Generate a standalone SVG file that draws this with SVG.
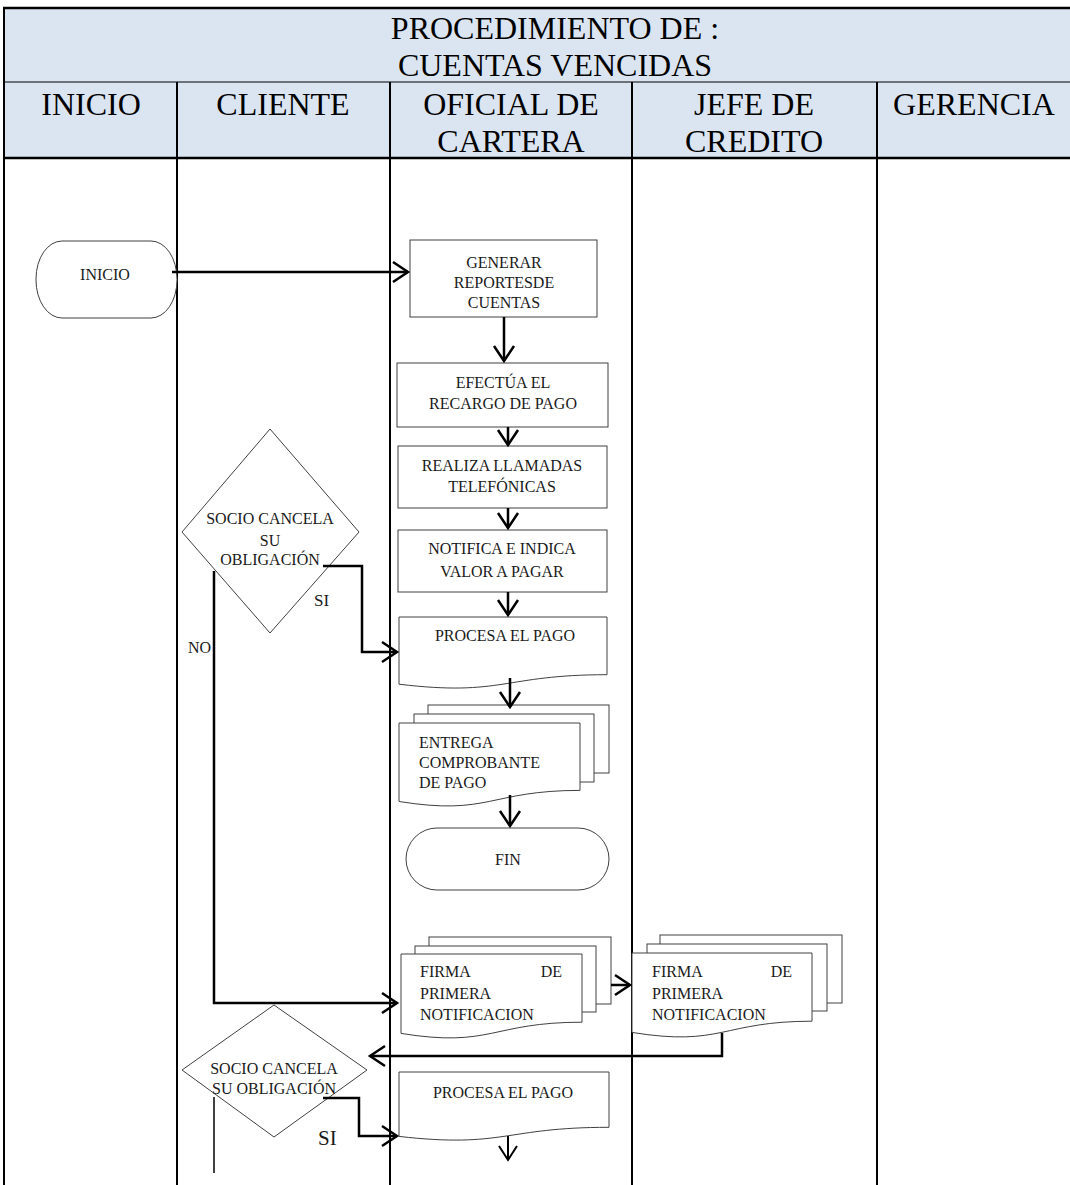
<svg xmlns="http://www.w3.org/2000/svg" width="1070" height="1185" viewBox="0 0 1070 1185">
<style>
.lane{stroke:#000;stroke-width:2;fill:none}
.node{fill:#fff;stroke:#404040;stroke-width:1}
.t{font-family:"Liberation Serif","Times New Roman",serif;font-size:16px;fill:#1a1a1a}
.c{text-anchor:middle}
.e{text-anchor:end}
.h{font-size:32px;fill:#000}
.conn{stroke:#000;stroke-width:2.5;fill:none;marker-end:url(#arr)}
.thin{stroke:#000;stroke-width:1.5;fill:none}
</style>
<defs>
<marker id="arr" markerUnits="userSpaceOnUse" viewBox="-18 -12 20 24" refX="0" refY="0" markerWidth="20" markerHeight="24" orient="auto" overflow="visible">
<path d="M-15,-10 L0,0 L-15,10" fill="none" stroke="#000" stroke-width="2.5" stroke-linejoin="miter"/>
</marker>
<marker id="arrs" markerUnits="userSpaceOnUse" viewBox="-18 -12 20 24" refX="0" refY="0" markerWidth="20" markerHeight="24" orient="auto" overflow="visible">
<path d="M-14,-9 L0,0 L-14,9" fill="none" stroke="#000" stroke-width="2"/>
</marker>
</defs>
<rect x="0" y="0" width="1070" height="1185" fill="#fff"/>
<g id="header">
<rect x="4" y="8" width="1070" height="150" fill="#dbe5f1"/>
<line x1="3" y1="8" x2="1070" y2="8" stroke="#000" stroke-width="2.5"/>
<line x1="4" y1="82" x2="1070" y2="82" stroke="#000" stroke-width="1.2"/>
<line x1="3" y1="158" x2="1070" y2="158" stroke="#000" stroke-width="2.5"/>
<text class="t h c" x="555" y="39">PROCEDIMIENTO DE :</text>
<text class="t h c" x="555" y="76">CUENTAS VENCIDAS</text>
<text class="t h c" x="91" y="115">INICIO</text>
<text class="t h c" x="283" y="115">CLIENTE</text>
<text class="t h c" x="511" y="115">OFICIAL DE</text>
<text class="t h c" x="511" y="152">CARTERA</text>
<text class="t h c" x="754" y="115">JEFE DE</text>
<text class="t h c" x="754" y="152">CREDITO</text>
<text class="t h c" x="974" y="115">GERENCIA</text>
</g>
<g id="lanes">
<line class="lane" x1="4" y1="8" x2="4" y2="1185"/>
<line class="lane" x1="177" y1="82" x2="177" y2="1185"/>
<line class="lane" x1="390" y1="82" x2="390" y2="1185"/>
<line class="lane" x1="632" y1="82" x2="632" y2="1185"/>
<line class="lane" x1="877" y1="82" x2="877" y2="1185"/>
</g>
<g id="n_inicio">
<rect class="node" x="36" y="241" width="141" height="77" rx="26" ry="38"/>
<text class="t c" x="105" y="280">INICIO</text>
</g>
<g id="n_generar">
<rect class="node" x="410" y="240" width="187" height="77"/>
<text class="t c" x="504" y="268">GENERAR</text>
<text class="t c" x="504" y="288">REPORTESDE</text>
<text class="t c" x="504" y="308">CUENTAS</text>
</g>
<g id="n_efectua">
<rect class="node" x="397" y="363" width="211" height="64"/>
<text class="t c" x="503" y="388">EFECTÚA EL</text>
<text class="t c" x="503" y="409">RECARGO DE PAGO</text>
</g>
<g id="n_realiza">
<rect class="node" x="398" y="446" width="209" height="62"/>
<text class="t c" x="502" y="471">REALIZA LLAMADAS</text>
<text class="t c" x="502" y="492">TELEFÓNICAS</text>
</g>
<g id="n_notifica">
<rect class="node" x="398" y="530" width="209" height="62"/>
<text class="t c" x="502" y="554">NOTIFICA E INDICA</text>
<text class="t c" x="502" y="577">VALOR A PAGAR</text>
</g>
<g id="n_procesa1">
<path class="node" d="M399,617 H607 V674.7 C503,674.7 503,696.7 399,684.2 Z"/>
<text class="t c" x="505" y="641">PROCESA EL PAGO</text>
</g>
<g id="n_entrega">
<rect class="node" x="428" y="705" width="181" height="68"/>
<rect class="node" x="414" y="714" width="180" height="68"/>
<path class="node" d="M399,723 H580 V790.4 C489.5,790.4 489.5,816 399,801.5 Z"/>
<text class="t" x="419" y="748">ENTREGA</text>
<text class="t" x="419" y="768">COMPROBANTE</text>
<text class="t" x="419" y="788">DE PAGO</text>
</g>
<g id="n_fin">
<rect class="node" x="406" y="828" width="203" height="62" rx="31" ry="31"/>
<text class="t c" x="508" y="865">FIN</text>
</g>
<g id="n_decision1">
<polygon class="node" points="270,429 359,532 270,633 182,532"/>
<text class="t c" x="270" y="524">SOCIO CANCELA</text>
<text class="t c" x="270" y="546">SU</text>
<text class="t c" x="270" y="565">OBLIGACIÓN</text>
</g>
<g id="n_firma1">
<rect class="node" x="429" y="937" width="182" height="67"/>
<rect class="node" x="415" y="946" width="181" height="66"/>
<path class="node" d="M401,954 H582 V1022.2 C491.5,1022.2 491.5,1048.1 401,1033.4 Z"/>
<text class="t" x="420" y="977">FIRMA</text>
<text class="t e" x="562" y="977">DE</text>
<text class="t" x="420" y="999">PRIMERA</text>
<text class="t" x="420" y="1020">NOTIFICACION</text>
</g>
<g id="n_firma2">
<rect class="node" x="660" y="935" width="182" height="68"/>
<rect class="node" x="647" y="944" width="180" height="67"/>
<path class="node" d="M632,953 H812 V1021.2 C722,1021.2 722,1047.1 632,1032.4 Z"/>
<text class="t" x="652" y="977">FIRMA</text>
<text class="t e" x="792" y="977">DE</text>
<text class="t" x="652" y="999">PRIMERA</text>
<text class="t" x="652" y="1020">NOTIFICACION</text>
</g>
<g id="n_decision2">
<polygon class="node" points="274,1005 367,1070 274,1137 182,1070"/>
<text class="t c" x="274" y="1074">SOCIO CANCELA</text>
<text class="t c" x="274" y="1094">SU OBLIGACIÓN</text>
</g>
<g id="n_procesa2">
<path class="node" d="M399,1072 H609 V1127.3 C504,1127.3 504,1148.4 399,1136.4 Z"/>
<text class="t c" x="503" y="1098">PROCESA EL PAGO</text>
</g>
<g id="connectors">
<path class="conn" d="M172,272 H408"/>
<path class="conn" d="M504,317 V361"/>
<path class="conn" d="M508,427 V445"/>
<path class="conn" d="M508,508 V528"/>
<path class="conn" d="M508,592 V615"/>
<path class="conn" d="M510,678 V707"/>
<path class="conn" d="M510,795 V826"/>
<path class="conn" d="M323,566 H362 V652 H397"/>
<path class="conn" d="M214,571 V1003 H397"/>
<path class="conn" d="M611,985 H630"/>
<path class="conn" d="M722,1033 V1056 H370"/>
<path class="conn" d="M323,1098 H359 V1136 H397"/>
<path d="M508,1136 V1160" fill="none" stroke="#000" stroke-width="2" marker-end="url(#arrs)"/>
<line class="thin" x1="214" y1="1097" x2="214" y2="1173"/>
<text class="t" x="314" y="606" style="font-size:17px">SI</text>
<text class="t" x="188" y="653">NO</text>
<text class="t" x="318" y="1145" style="font-size:21px">SI</text>
</g>
</svg>
